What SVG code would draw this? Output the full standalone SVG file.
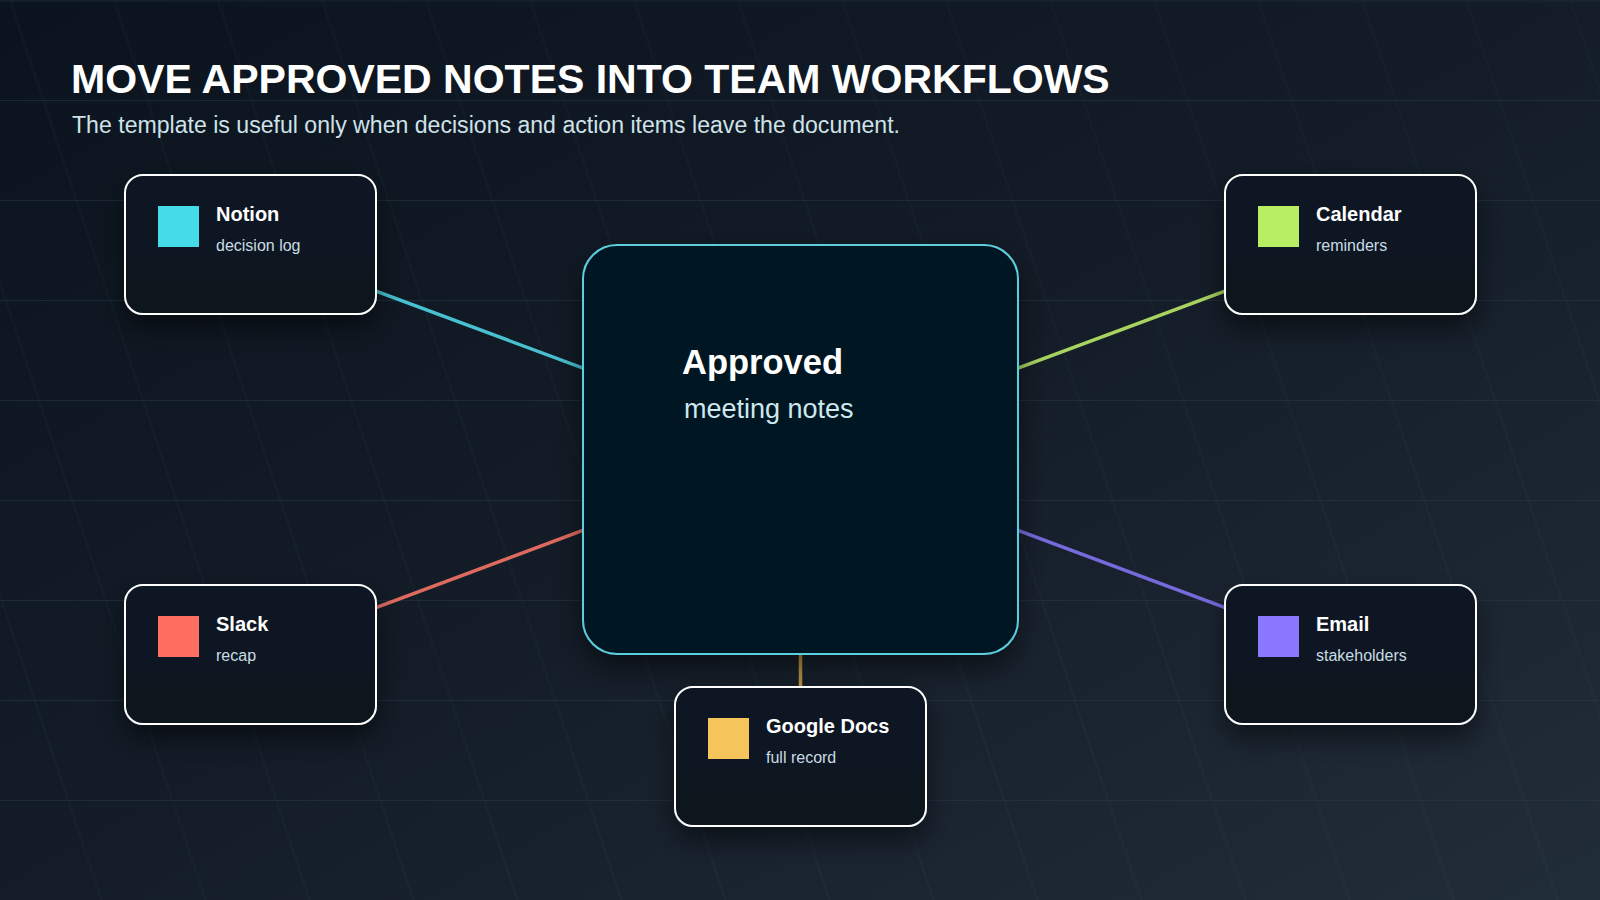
<svg xmlns="http://www.w3.org/2000/svg" width="1600" height="900" viewBox="0 0 1600 900">
  <defs>
    <linearGradient id="bg" x1="0" y1="0" x2="1" y2="1">
      <stop offset="0" stop-color="#0b141e"/>
      <stop offset="0.5" stop-color="#131c27"/>
      <stop offset="1" stop-color="#222d3a"/>
    </linearGradient>
    <linearGradient id="card" x1="0" y1="0" x2="0" y2="1">
      <stop offset="0" stop-color="#0a1722"/>
      <stop offset="1" stop-color="#07131e"/>
    </linearGradient>
    <pattern id="rain" width="104" height="100" patternUnits="userSpaceOnUse" patternTransform="skewX(18.4)">
      <line x1="10" y1="0" x2="10" y2="100" stroke="#3a5566" stroke-opacity="0.18" stroke-width="1"/>
    </pattern>
    <filter id="shadow" x="-30%" y="-30%" width="160%" height="180%">
      <feDropShadow dx="0" dy="14" stdDeviation="14" flood-color="#000000" flood-opacity="0.5"/>
    </filter>
    <style>
      .node { fill: url(#card); stroke: #ffffff; stroke-width: 2; }
      .hub { fill: #061420; stroke: #5ccfdf; stroke-width: 2; }
      .ntitle { font-family: "Liberation Sans", Arial, sans-serif; font-weight: 700; font-size: 20px; fill: #ffffff; }
      .nsub { font-family: "Liberation Sans", Arial, sans-serif; font-size: 16px; fill: #c9dce4; }
      .conn { stroke-width: 3.5; fill: none; stroke-opacity: 0.9; }
      .grid { stroke: #2a3a48; stroke-opacity: 0.5; stroke-width: 1; }
    </style>
  </defs>

  <rect x="0" y="0" width="1600" height="900" fill="url(#bg)"/>
  <rect x="0" y="0" width="1600" height="900" fill="url(#rain)"/>
  <g id="grid">
    <line class="grid" x1="0" y1="1" x2="1600" y2="1"/>
    <line class="grid" x1="0" y1="100.5" x2="1600" y2="100.5"/>
    <line class="grid" x1="0" y1="200.5" x2="1600" y2="200.5"/>
    <line class="grid" x1="0" y1="300.5" x2="1600" y2="300.5"/>
    <line class="grid" x1="0" y1="400.5" x2="1600" y2="400.5"/>
    <line class="grid" x1="0" y1="500.5" x2="1600" y2="500.5"/>
    <line class="grid" x1="0" y1="600.5" x2="1600" y2="600.5"/>
    <line class="grid" x1="0" y1="700.5" x2="1600" y2="700.5"/>
    <line class="grid" x1="0" y1="800.5" x2="1600" y2="800.5"/>
  </g>

  <g id="heading">
    <text x="71" y="93" font-family="'Liberation Sans', Arial, sans-serif" font-weight="700" font-size="41" fill="#ffffff">MOVE APPROVED NOTES INTO TEAM WORKFLOWS</text>
    <text x="72" y="133" font-family="'Liberation Sans', Arial, sans-serif" font-size="23.1" fill="#cfe2ea">The template is useful only when decisions and action items leave the document.</text>
  </g>

  <g id="connectors">
    <line class="conn" x1="250.5" y1="244.5" x2="800.5" y2="449" stroke="#4fd3e3"/>
    <line class="conn" x1="1350.5" y1="244.5" x2="800.5" y2="449" stroke="#b8e866"/>
    <line class="conn" x1="250.5" y1="654.5" x2="800.5" y2="449" stroke="#f47366"/>
    <line class="conn" x1="1350.5" y1="654.5" x2="800.5" y2="449" stroke="#8172f0"/>
    <line class="conn" x1="800.5" y1="756.5" x2="800.5" y2="449" stroke="#d2a545"/>
  </g>

  <g id="hub">
    <rect class="hub" x="583" y="245" width="435" height="409" rx="34" filter="url(#shadow)"/>
    <text x="682" y="374" font-family="'Liberation Sans', Arial, sans-serif" font-weight="700" font-size="34.5" fill="#ffffff">Approved</text>
    <text x="684" y="418" font-family="'Liberation Sans', Arial, sans-serif" font-size="27" fill="#cfe7ee">meeting notes</text>
  </g>

  <g id="node-notion">
    <rect class="node" x="125" y="175" width="251" height="139" rx="18" filter="url(#shadow)"/>
    <rect x="158" y="206" width="41" height="41" fill="#45dbe9"/>
    <text class="ntitle" x="216" y="221">Notion</text>
    <text class="nsub" x="216" y="251">decision log</text>
  </g>

  <g id="node-calendar">
    <rect class="node" x="1225" y="175" width="251" height="139" rx="18" filter="url(#shadow)"/>
    <rect x="1258" y="206" width="41" height="41" fill="#b7ee63"/>
    <text class="ntitle" x="1316" y="221">Calendar</text>
    <text class="nsub" x="1316" y="251">reminders</text>
  </g>

  <g id="node-slack">
    <rect class="node" x="125" y="585" width="251" height="139" rx="18" filter="url(#shadow)"/>
    <rect x="158" y="616" width="41" height="41" fill="#ff6f61"/>
    <text class="ntitle" x="216" y="631">Slack</text>
    <text class="nsub" x="216" y="661">recap</text>
  </g>

  <g id="node-email">
    <rect class="node" x="1225" y="585" width="251" height="139" rx="18" filter="url(#shadow)"/>
    <rect x="1258" y="616" width="41" height="41" fill="#8a79fe"/>
    <text class="ntitle" x="1316" y="631">Email</text>
    <text class="nsub" x="1316" y="661">stakeholders</text>
  </g>

  <g id="node-gdocs">
    <rect class="node" x="675" y="687" width="251" height="139" rx="18" filter="url(#shadow)"/>
    <rect x="708" y="718" width="41" height="41" fill="#f5c55b"/>
    <text class="ntitle" x="766" y="733">Google Docs</text>
    <text class="nsub" x="766" y="763">full record</text>
  </g>
</svg>
